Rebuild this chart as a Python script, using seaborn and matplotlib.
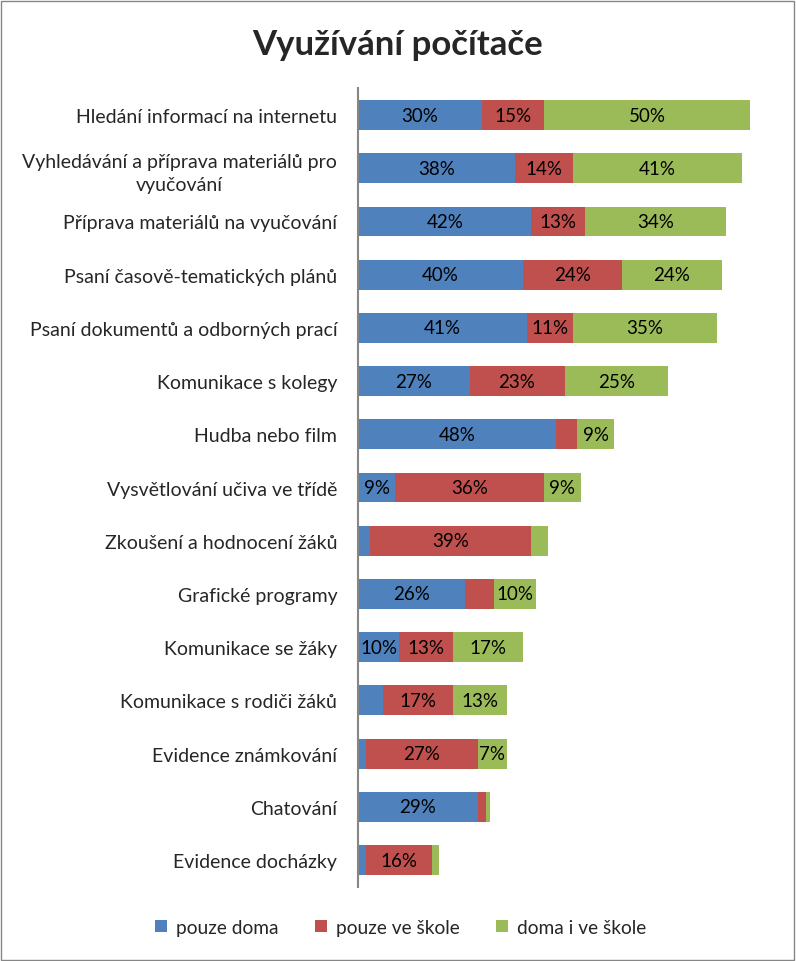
import pandas as pd
import numpy as np
import matplotlib
matplotlib.use("Agg")
import matplotlib.pyplot as plt
from matplotlib.patches import Patch, Rectangle
import seaborn as sns

# Data (percent)
kategorie = [
    "Hledání informací na internetu",
    "Vyhledávání a příprava materiálů pro\nvyučování",
    "Příprava materiálů na vyučování",
    "Psaní časově-tematických plánů",
    "Psaní dokumentů a odborných prací",
    "Komunikace s kolegy",
    "Hudba nebo film",
    "Vysvětlování učiva ve třídě",
    "Zkoušení a hodnocení žáků",
    "Grafické programy",
    "Komunikace se žáky",
    "Komunikace s rodiči žáků",
    "Evidence známkování",
    "Chatování",
    "Evidence docházky",
]
pouze_doma = [30, 38, 42, 40, 41, 27, 48, 9, 3, 26, 10, 6, 2, 29, 2]
pouze_ve_skole = [15, 14, 13, 24, 11, 23, 5, 36, 39, 7, 13, 17, 27, 2, 16]
doma_i_ve_skole = [50, 41, 34, 24, 35, 25, 9, 9, 4, 10, 17, 13, 7, 1, 1.5]
serie = ["pouze doma", "pouze ve škole", "doma i ve škole"]
barvy = ["#4F81BD", "#C0504D", "#9BBB59"]

# labels removed in the original chart (row index, series index)
bez_popisku = {(6, 1), (8, 0), (8, 2), (9, 1), (11, 0), (12, 0), (13, 1), (13, 2), (14, 0), (14, 2)}

df = pd.DataFrame({
    "kategorie": kategorie,
    serie[0]: pouze_doma,
    serie[1]: pouze_ve_skole,
    serie[2]: doma_i_ve_skole,
})
cum = df[serie].cumsum(axis=1)

sns.set_style("white")
plt.rcParams["font.family"] = ["Lato", "DejaVu Sans"]

fig = plt.figure(figsize=(7.96, 9.62), dpi=100)
ax = fig.add_axes([0.4497, 0.0773, 0.519, 0.8297])

# stacked bars: draw cumulative totals from the back
for i in reversed(range(3)):
    sns.barplot(x=cum[serie[i]], y=df["kategorie"], color=barvy[i], orient="h",
                width=0.56, ax=ax, saturation=1, edgecolor="none")

# data labels
for i, s in enumerate(serie):
    lefts = cum[s] - df[s]
    for r, (v, l) in enumerate(zip(df[s], lefts)):
        if (r, i) in bez_popisku:
            continue
        ax.text(l + v / 2, r, f"{v:.0f}%", ha="center", va="center",
                fontsize=13.5, color="black")

ax.set_xlim(0, 100)
ax.set_ylim(len(kategorie) - 0.5, -0.5)
ax.set_xlabel("")
ax.set_ylabel("")
ax.set_xticks([])
for sp in ["top", "right", "bottom"]:
    ax.spines[sp].set_visible(False)
ax.spines["left"].set_color("#868686")
ax.spines["left"].set_linewidth(1.5)
ax.tick_params(axis="y", length=0, pad=15, labelsize=14)
for t in ax.get_yticklabels():
    t.set_multialignment("center")
    t.set_linespacing(1.45)

fig.text(0.5, 0.953, "Využívání počítače", ha="center", va="center",
         fontsize=25, fontweight="bold")

handles = [Patch(facecolor=c, edgecolor="none") for c in barvy]
fig.legend(handles, serie, loc="center", bbox_to_anchor=(0.503, 0.035), ncol=3,
           frameon=False, fontsize=13.8, handlelength=0.65, handleheight=0.65,
           columnspacing=1.9, handletextpad=0.45)

fig.patches.append(Rectangle((0.001, 0.001), 0.997, 0.997, transform=fig.transFigure,
                             fill=False, edgecolor="#868686", linewidth=1))

fig.savefig("out.png", dpi=100)
